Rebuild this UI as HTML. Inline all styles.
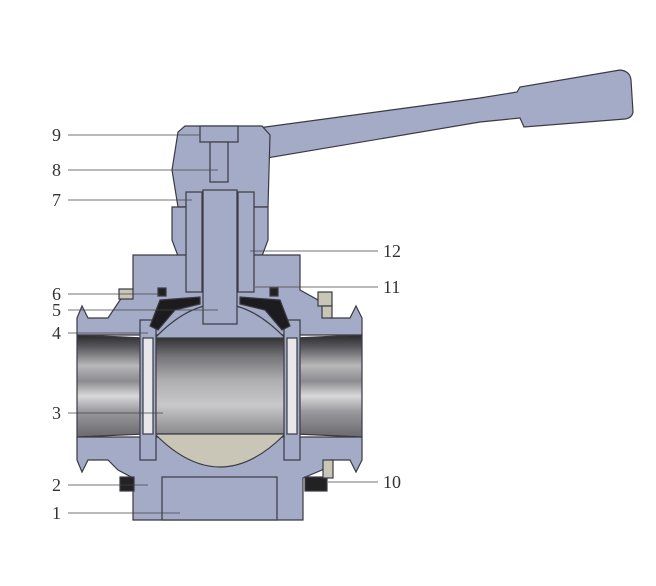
<!DOCTYPE html>
<html><head><meta charset="utf-8"><style>
html,body{margin:0;padding:0;background:#fff;}
svg{display:block}
text{font-family:"Liberation Serif",serif;font-size:18px;fill:#333}
</style></head><body>
<svg width="656" height="586" viewBox="0 0 656 586" xmlns="http://www.w3.org/2000/svg">
<defs>
<linearGradient id="bore" x1="0" y1="0" x2="0" y2="1">
<stop offset="0" stop-color="#2a2a2c"/>
<stop offset="0.12" stop-color="#5a5a5e"/>
<stop offset="0.3" stop-color="#b8b8bb"/>
<stop offset="0.45" stop-color="#8c8c90"/>
<stop offset="0.6" stop-color="#d8d8da"/>
<stop offset="0.75" stop-color="#9a9a9e"/>
<stop offset="1" stop-color="#6a6a6e"/>
</linearGradient>
<linearGradient id="ballb" x1="0" y1="0" x2="0" y2="1">
<stop offset="0" stop-color="#333336"/>
<stop offset="0.2" stop-color="#77777b"/>
<stop offset="0.45" stop-color="#b0b0b3"/>
<stop offset="0.7" stop-color="#c8c8ca"/>
<stop offset="1" stop-color="#8a8a8e"/>
</linearGradient>
</defs>
<g stroke="#3a3a44" stroke-width="1.2" fill="#a4abc6">
<path d="M258,128 L480,98 L517,92 L520,87 L620,70 Q630,71 631,80 L633,112 Q632,118 625,119 L524,127 L520,118 L480,122 L267,158 Z"/>
<path d="M185,126 L262,126 L270,135 L268,207 L178,207 L172,170 L178,132 Z"/>
<path d="M172,207 L268,207 L268,240 L262,256 L178,256 L172,240 Z"/>
<path d="M133,255 L300,255 L300,290 L318,300 L330,318 L350,318 L356,306 L362,318 L362,335 L77,335 L77,318 L82,306 L88,318 L108,318 L120,300 L133,290 Z"/>
<path d="M77,437 L362,437 L362,460 L356,472 L350,460 L330,460 L322,470 L303,478 L303,520 L133,520 L133,478 L118,470 L108,460 L88,460 L82,472 L77,460 Z"/>
<path d="M77,335 L145,338 L295,338 L362,335 L362,437 L295,434 L145,434 L77,437 Z" fill="url(#bore)"/>
<path d="M155,338 L285,338 L285,434 L155,434 Z" fill="url(#ballb)"/>
<path d="M155,338 Q220,270 285,338 Z" />
<path d="M155,434 Q220,500 285,434 Z" fill="#c9c6b8"/>
<rect x="140" y="320" width="16" height="140" fill="#a4abc6"/>
<rect x="284" y="320" width="16" height="140" fill="#a4abc6"/>
<rect x="143" y="338" width="10" height="96" fill="#e8e8ea"/>
<rect x="287" y="338" width="10" height="96" fill="#e8e8ea"/>
<path d="M160,300 L200,297 L200,304 L175,310 L158,330 L150,326 Z" fill="#1c1c1f"/>
<path d="M280,300 L240,297 L240,304 L265,310 L282,330 L290,326 Z" fill="#1c1c1f"/>
<rect x="203" y="190" width="34" height="134" />
<rect x="186" y="192" width="16" height="100"/>
<rect x="238" y="192" width="16" height="100"/>
<rect x="200" y="126" width="38" height="16"/>
<rect x="210" y="142" width="18" height="40"/>
<rect x="162" y="477" width="115" height="43"/>
<rect x="119" y="289" width="14" height="10" fill="#c9c6b8"/>
<rect x="318" y="292" width="14" height="14" fill="#c9c6b8"/>
<rect x="322" y="306" width="10" height="12" fill="#c9c6b8"/>
<rect x="120" y="477" width="14" height="14" fill="#222"/>
<rect x="305" y="477" width="22" height="14" fill="#222"/>
<rect x="323" y="460" width="10" height="18" fill="#c9c6b8"/>
<rect x="158" y="288" width="8" height="8" fill="#222"/>
<rect x="270" y="288" width="8" height="8" fill="#222"/>
</g>
<g stroke="#444" stroke-width="0.8">
<line x1="68" y1="135" x2="200" y2="135"/>
<line x1="68" y1="170" x2="218" y2="170"/>
<line x1="68" y1="200" x2="192" y2="200"/>
<line x1="250" y1="251" x2="378" y2="251"/>
<line x1="68" y1="294" x2="160" y2="294"/>
<line x1="255" y1="287" x2="378" y2="287"/>
<line x1="68" y1="310" x2="218" y2="310"/>
<line x1="68" y1="333" x2="148" y2="333"/>
<line x1="68" y1="413" x2="163" y2="413"/>
<line x1="68" y1="485" x2="148" y2="485"/>
<line x1="328" y1="482" x2="378" y2="482"/>
<line x1="68" y1="513" x2="180" y2="513"/>
</g>
<text x="52" y="141">9</text>
<text x="52" y="176">8</text>
<text x="52" y="206">7</text>
<text x="383" y="257">12</text>
<text x="52" y="300">6</text>
<text x="383" y="293">11</text>
<text x="52" y="316">5</text>
<text x="52" y="339">4</text>
<text x="52" y="419">3</text>
<text x="52" y="491">2</text>
<text x="383" y="488">10</text>
<text x="52" y="519">1</text>
</svg>
</body></html>
